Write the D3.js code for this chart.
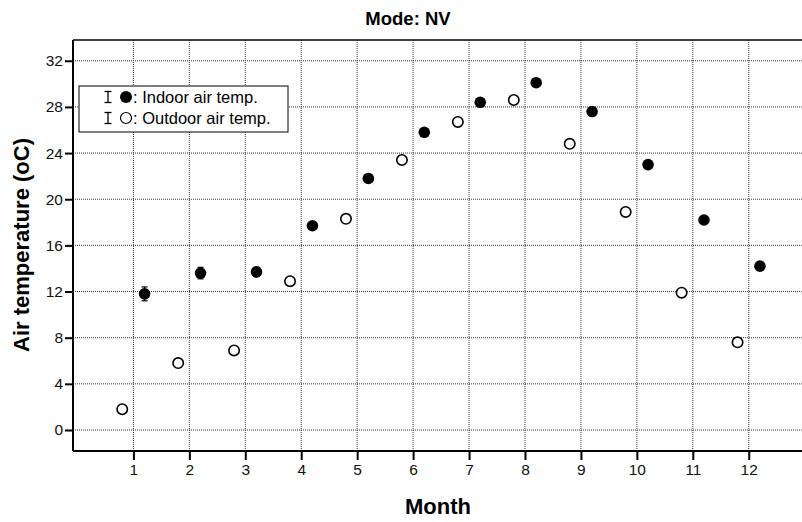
<!DOCTYPE html>
<html>
<head>
<meta charset="utf-8">
<script src="https://cdn.jsdelivr.net/npm/d3@7"></script>
<style>
  body { margin: 0; background: #fff; }
  svg { display: block; font-family: "Liberation Sans", Arial, sans-serif; }
</style>
</head>
<body>
<div id="chart"></div>
<script>
// monthly air temperature, NV mode
var months = [1, 2, 3, 4, 5, 6, 7, 8, 9, 10, 11, 12];
var indoorTemp = [11.8, 13.6, 13.7, 17.7, 21.8, 25.8, 28.4, 30.1, 27.6, 23.0, 18.2, 14.2];
var indoorErr = [0.6, 0.5, 0.4, 0.3, 0.3, 0.3, 0.3, 0.3, 0.3, 0.3, 0.3, 0.3];
var outdoorTemp = [1.8, 5.8, 6.9, 12.9, 18.3, 23.4, 26.7, 28.6, 24.8, 18.9, 11.9, 7.6];
var outdoorErr = [0.2, 0.2, 0.2, 0.2, 0.2, 0.2, 0.2, 0.2, 0.2, 0.2, 0.2, 0.2];
var yTicks = [0, 4, 8, 12, 16, 20, 24, 28, 32];
var legendLabels = [": Indoor air temp.", ": Outdoor air temp."];

var width = 802, height = 522;
var margin = { top: 40, left: 73, right: -1, bottom: 71 };

var svg = d3.select("#chart").append("svg")
    .attr("width", width)
    .attr("height", height);

var x = d3.scaleLinear()
    .domain([-0.08, 12.97])
    .range([margin.left, width - margin.right]);

var y = d3.scaleLinear()
    .domain([-1.82, 33.8])
    .range([height - margin.bottom, margin.top]);

// grid
var grid = svg.append("g");
grid.selectAll(".hgrid")
    .data(yTicks)
    .enter().append("line")
    .attr("x1", margin.left).attr("x2", width)
    .attr("y1", d => y(d)).attr("y2", d => y(d))
    .attr("stroke", "#333").attr("stroke-width", 1)
    .attr("stroke-dasharray", "1,1");
grid.selectAll(".vgrid")
    .data(months)
    .enter().append("line")
    .attr("x1", d => x(d)).attr("x2", d => x(d))
    .attr("y1", margin.top).attr("y2", height - margin.bottom)
    .attr("stroke", "#333").attr("stroke-width", 1)
    .attr("stroke-dasharray", "1,1");

// frame (top)
svg.append("line")
    .attr("x1", margin.left).attr("x2", width)
    .attr("y1", margin.top).attr("y2", margin.top)
    .attr("stroke", "#000").attr("stroke-width", 1.5);

// axes
var xAxis = svg.append("g")
    .attr("transform", "translate(0," + (height - margin.bottom) + ")")
    .call(d3.axisBottom(x).tickValues(months).tickSize(9).tickPadding(4).tickFormat(d3.format("d")));
var yAxis = svg.append("g")
    .attr("transform", "translate(" + margin.left + ",0)")
    .call(d3.axisLeft(y).tickValues(yTicks).tickSize(8).tickPadding(2).tickFormat(d3.format("d")));

[xAxis, yAxis].forEach(function(a) {
    a.select(".domain").attr("stroke", "#000").attr("stroke-width", 2);
    a.selectAll(".tick line").attr("stroke", "#000").attr("stroke-width", 2);
    a.selectAll(".tick text").attr("fill", "#111")
        .style("font-size", "15.5px")
        .style("font-family", "'Liberation Sans', Arial, sans-serif");
});
xAxis.select(".domain").attr("d", "M" + margin.left + ",0H" + width);
yAxis.select(".domain").attr("d", "M0," + margin.top + "V" + (height - margin.bottom));

// error bars + points
function drawSeries(vals, errs, offset, filled) {
    var g = svg.append("g");
    var data = months.map((m, i) => ({ m: m, v: vals[i], e: errs[i] }));
    var eb = g.selectAll(".eb").data(data).enter().append("g");
    eb.append("line")
        .attr("x1", d => x(d.m + offset)).attr("x2", d => x(d.m + offset))
        .attr("y1", d => y(d.v - d.e)).attr("y2", d => y(d.v + d.e))
        .attr("stroke", "#000").attr("stroke-width", 1.2);
    [-1, 1].forEach(function(s) {
        eb.append("line")
            .attr("x1", d => x(d.m + offset) - 3).attr("x2", d => x(d.m + offset) + 3)
            .attr("y1", d => y(d.v + s * d.e)).attr("y2", d => y(d.v + s * d.e))
            .attr("stroke", "#000").attr("stroke-width", 1.2);
    });
    g.selectAll("circle").data(data).enter().append("circle")
        .attr("cx", d => x(d.m + offset))
        .attr("cy", d => y(d.v))
        .attr("r", filled ? 5.8 : 5.2)
        .attr("fill", filled ? "#000" : "#fff")
        .attr("stroke", "#000")
        .attr("stroke-width", filled ? 0 : 1.6);
}
drawSeries(outdoorTemp, outdoorErr, -0.2, false);
drawSeries(indoorTemp, indoorErr, 0.2, true);

// legend
var lg = svg.append("g").attr("transform", "translate(79,86)");
lg.append("rect")
    .attr("width", 209).attr("height", 46)
    .attr("fill", "#fff").attr("stroke", "#000").attr("stroke-width", 1);
legendLabels.forEach(function(t, i) {
    var cy = 11 + i * 21;
    var ex = 29;
    lg.append("line").attr("x1", ex).attr("x2", ex).attr("y1", cy - 5.5).attr("y2", cy + 5.5)
        .attr("stroke", "#000").attr("stroke-width", 1.3);
    lg.append("line").attr("x1", ex - 3.5).attr("x2", ex + 3.5).attr("y1", cy - 5.5).attr("y2", cy - 5.5)
        .attr("stroke", "#000").attr("stroke-width", 1.3);
    lg.append("line").attr("x1", ex - 3.5).attr("x2", ex + 3.5).attr("y1", cy + 5.5).attr("y2", cy + 5.5)
        .attr("stroke", "#000").attr("stroke-width", 1.3);
    lg.append("circle").attr("cx", 47).attr("cy", cy).attr("r", i === 0 ? 6 : 5.5)
        .attr("fill", i === 0 ? "#000" : "#fff")
        .attr("stroke", "#000").attr("stroke-width", i === 0 ? 0 : 1.2);
    lg.append("text").attr("x", 54).attr("y", cy + 6)
        .style("font-size", "16.5px").text(t);
});

// titles
svg.append("text")
    .attr("x", 408).attr("y", 25)
    .attr("text-anchor", "middle")
    .style("font-size", "18.5px").style("font-weight", "bold")
    .text("Mode: NV");

svg.append("text")
    .attr("x", 438).attr("y", 514)
    .attr("text-anchor", "middle")
    .style("font-size", "22px").style("font-weight", "bold")
    .text("Month");

svg.append("text")
    .attr("transform", "translate(29,245) rotate(-90)")
    .attr("text-anchor", "middle")
    .style("font-size", "22px").style("font-weight", "bold")
    .text("Air temperature (oC)");
</script>
</body>
</html>
